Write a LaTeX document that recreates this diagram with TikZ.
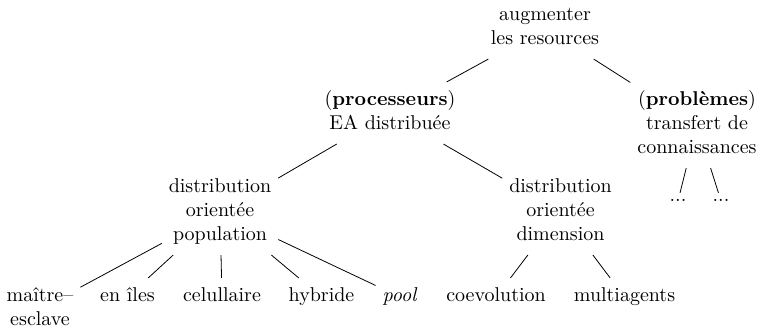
\documentclass[tikz,border=0pt]{standalone}
\usepackage{fontspec}
\begin{document}
\begin{tikzpicture}[x=0.5pt,y=-0.5pt,
  tn/.style={align=center, inner sep=3.33pt},
  ed/.style={draw=black, line width=0.4pt}]
\useasboundingbox (0,0) rectangle (760,331);
% level 0
\node[tn] (root) at (545,28) {\strut augmenter\\\strut les resources};
% level 1
\node[tn] (proc) at (390,113) {\strut(\textbf{processeurs})\\\strut EA distribuée};
\node[tn] (prob) at (697,125) {\strut(\textbf{problèmes})\\\strut transfert de\\\strut connaissances};
% level 2
\node[tn] (pop) at (220,212) {\strut distribution\\\strut orientée\\\strut population};
\node[tn] (dim) at (560.5,212) {\strut distribution\\\strut orientée\\\strut dimension};
\node[tn, anchor=base] (d1) at (678,202) {...};
\node[tn, anchor=base] (d2) at (721,202) {...};
% leaves
\node[tn] (me) at (40,309) {\strut maître–\\\strut esclave};
\node[tn] (iles) at (127.5,297) {\strut en îles};
\node[tn] (cel) at (222,297) {\strut celullaire};
\node[tn] (hyb) at (321.5,297) {\strut hybride};
\node[tn] (pool) at (400,297) {\strut\textit{pool}};
\node[tn] (coev) at (496,297) {\strut coevolution};
\node[tn] (multi) at (624.5,297) {\strut multiagents};
% edges
\draw[ed] (root) -- (proc);
\draw[ed] (root) -- (prob);
\draw[ed] (proc) -- (pop);
\draw[ed] (proc) -- (dim);
\draw[ed] (prob) -- (d1);
\draw[ed] (prob) -- (d2);
\draw[ed] (pop) -- (me);
\draw[ed] (pop) -- (iles);
\draw[ed] (pop) -- (cel);
\draw[ed] (pop) -- (hyb);
\draw[ed] (pop) -- (pool);
\draw[ed] (dim) -- (coev);
\draw[ed] (dim) -- (multi);
\end{tikzpicture}
\end{document}
